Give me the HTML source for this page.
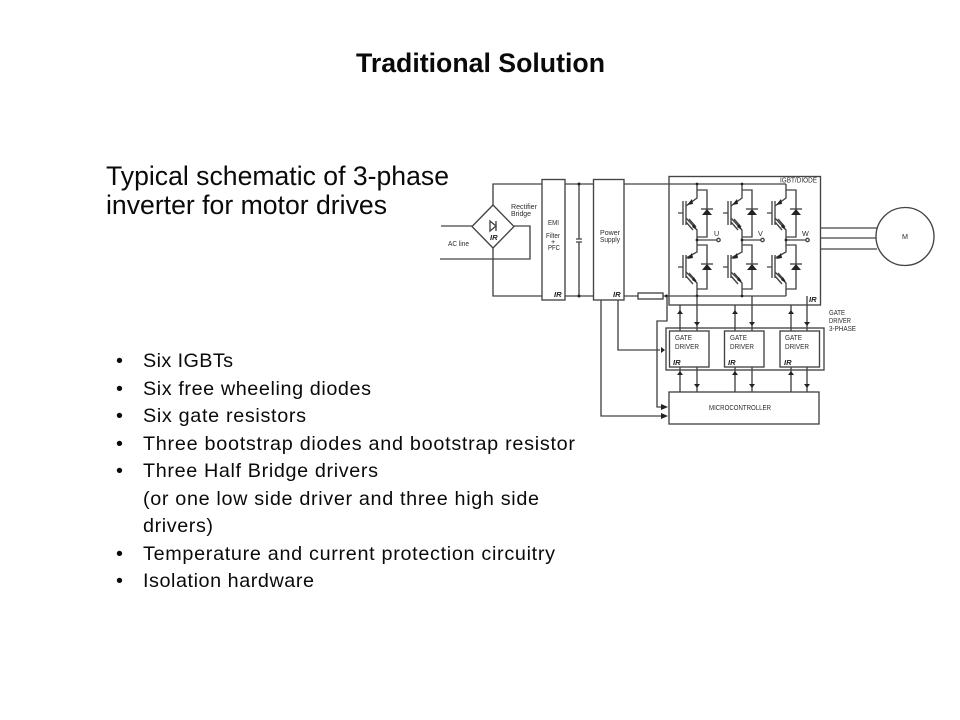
<!DOCTYPE html>
<html><head><meta charset="utf-8"><style>
html,body{margin:0;padding:0;background:#fff;width:960px;height:720px;overflow:hidden}
svg{display:block;font-family:"Liberation Sans",sans-serif}
.t{fill:#0a0a0a}
.b{font-size:19.8px}
.s{fill:#2c2c2c;font-size:7.2px}
.ir{fill:#222;font-size:7.6px;font-weight:bold;font-style:italic}
.l{fill:none;stroke:#444;stroke-width:1.35}
.f{fill:#222;stroke:none}
.d{filter:blur(0.3px)}
</style></head><body>
<svg width="960" height="720" viewBox="0 0 960 720" xmlns="http://www.w3.org/2000/svg">
<text class="t" x="356" y="72" font-size="26.8" font-weight="bold" textLength="249" lengthAdjust="spacingAndGlyphs">Traditional Solution</text>
<text class="t" x="106" y="185" font-size="26.6" textLength="343" lengthAdjust="spacingAndGlyphs">Typical schematic of 3-phase</text>
<text class="t" x="106" y="214" font-size="26.6" textLength="281" lengthAdjust="spacingAndGlyphs">inverter for motor drives</text>

<g class="t b">
<text x="116" y="367">•</text><text x="143" y="367" textLength="90">Six IGBTs</text>
<text x="116" y="395">•</text><text x="143" y="395" textLength="228">Six free wheeling diodes</text>
<text x="116" y="422">•</text><text x="143" y="422" textLength="163">Six gate resistors</text>
<text x="116" y="450">•</text><text x="143" y="450" textLength="432">Three bootstrap diodes and bootstrap resistor</text>
<text x="116" y="477">•</text><text x="143" y="477" textLength="235">Three Half Bridge drivers</text>
<text x="143" y="505" textLength="396">(or one low side driver and three high side</text>
<text x="143" y="532" textLength="70">drivers)</text>
<text x="116" y="560">•</text><text x="143" y="560" textLength="412">Temperature and current protection circuitry</text>
<text x="116" y="587">•</text><text x="143" y="587" textLength="171">Isolation hardware</text>
</g>

<defs>
<g id="leg">
<path class="l" d="M0 0V14L-11 22M-11 34L0 46V56"/>
<path class="l" d="M-11 17V41M-14 17V41M-19 29H-14M-8 35L-1 43M-11 38L-4 46"/>
<path class="f" d="M-10 21L-5 15L-4 20ZM0 46L-5 43L-3 40Z"/>
<path class="l" d="M0 6H10V53H0"/>
<path class="f" d="M5 31H15L10 25Z"/>
<path class="l" d="M4 25H16"/>
</g>
<g id="leg2">
<path class="l" d="M0 0V12L-11 18M-11 32L0 43V56"/>
<path class="l" d="M-11 15V38M-14 15V38M-19 27H-14M-8 33L-1 41M-11 36L-4 44"/>
<path class="f" d="M-10 19L-5 13L-4 18ZM0 43L-5 40L-3 37Z"/>
<path class="l" d="M0 5H10V49H0"/>
<path class="f" d="M5 30H15L10 24Z"/>
<path class="l" d="M4 24H16"/>
</g>
</defs>

<g class="d">
<!-- rectifier and power path -->
<g class="l">
<path d="M493 205V184H542M565 184H593M624 184H786"/>
<path d="M493 248V296H542M565 296H593M624 296H638M663 296H786"/>
<path d="M472 226.500L493 205L514 226.500L493 248Z"/>
<path d="M441 226H472M514 226H530V259H440"/>
<rect x="542" y="179.500" width="23" height="120.500"/>
<rect x="593.500" y="179.500" width="30.500" height="120.500"/>
<path d="M579 184V239M576 239H582M576 242H582M579 242V296"/>
<rect x="638" y="293" width="25" height="6"/>
<path d="M490 221L496 226L490 231ZM496 221V231"/>
<rect x="669" y="176.500" width="151.500" height="128.500"/>
<circle cx="905" cy="236.500" r="29"/>
<path d="M820.500 228H877M820.500 238H875.500M820.500 249H877"/>
</g>
<g class="f">
<circle cx="579" cy="184" r="1.500"/><circle cx="579" cy="296" r="1.500"/><circle cx="666.500" cy="296" r="1.500"/>
</g>

<use href="#leg" x="697" y="184"/><use href="#leg" x="742" y="184"/><use href="#leg" x="786" y="184"/>
<use href="#leg2" x="697" y="240"/><use href="#leg2" x="742" y="240"/><use href="#leg2" x="786" y="240"/>
<g class="l">
<path d="M697 240H717M742 240H761M786 240H806"/>
<circle cx="718.500" cy="240" r="1.700"/><circle cx="762.500" cy="240" r="1.700"/><circle cx="807.500" cy="240" r="1.700"/>
</g>
<g class="f">
<circle cx="697" cy="184" r="1.400"/><circle cx="742" cy="184" r="1.400"/>
<circle cx="697" cy="240" r="1.400"/><circle cx="742" cy="240" r="1.400"/><circle cx="786" cy="240" r="1.400"/>
<circle cx="697" cy="296" r="1.400"/><circle cx="742" cy="296" r="1.400"/>
</g>

<!-- gate drivers -->
<g class="l">
<rect x="666" y="328" width="158" height="42"/>
<rect x="669.500" y="331" width="39.500" height="36"/>
<rect x="724.500" y="331" width="39.500" height="36"/>
<rect x="780" y="331" width="39.500" height="36"/>
<rect x="669" y="392" width="150" height="32"/>
<path d="M680 305V331M697 296V331M735 305V331M752 296V331M791 305V331M807 296V331"/>
<path d="M680 367V392M697 367V392M735 367V392M752 367V392M791 367V392M807 367V392"/>
<path d="M601 300V416H662M618 300V350H660M667 296V321H657V407H662"/>
</g>
<g class="f">
<path d="M677 314L680 310L683 314ZM732 314L735 310L738 314ZM788 314L791 310L794 314Z"/>
<path d="M694 322L697 326L700 322ZM749 322L752 326L755 322ZM804 322L807 326L810 322Z"/>
<path d="M677 375L680 371L683 375ZM732 375L735 371L738 375ZM788 375L791 371L794 375Z"/>
<path d="M694 384L697 388L700 384ZM749 384L752 388L755 384ZM804 384L807 388L810 384Z"/>
<path d="M661 347L665 350L661 353ZM661 404L668 407L661 410ZM661 413L668 416L661 419Z"/>
</g>

<!-- labels -->
<g class="s">
<text x="511" y="209" textLength="26" lengthAdjust="spacingAndGlyphs">Rectifier</text><text x="511" y="216" textLength="20" lengthAdjust="spacingAndGlyphs">Bridge</text>
<text x="448" y="246" textLength="21" lengthAdjust="spacingAndGlyphs">AC line</text>
<text x="548" y="225" textLength="11" lengthAdjust="spacingAndGlyphs">EMI</text>
<text x="546" y="238" textLength="14" lengthAdjust="spacingAndGlyphs">Filter</text>
<text x="551" y="244">+</text>
<text x="548" y="250" textLength="12" lengthAdjust="spacingAndGlyphs">PFC</text>
<text x="600" y="235" textLength="20" lengthAdjust="spacingAndGlyphs">Power</text><text x="600" y="242" textLength="20" lengthAdjust="spacingAndGlyphs">Supply</text>
<text x="780" y="182.500" textLength="37" lengthAdjust="spacingAndGlyphs">IGBT/DIODE</text>
<text x="714" y="236">U</text><text x="758" y="236">V</text><text x="802" y="236">W</text>
<text x="902" y="239">M</text>
<text x="829" y="315" textLength="16" lengthAdjust="spacingAndGlyphs">GATE</text>
<text x="829" y="323" textLength="22" lengthAdjust="spacingAndGlyphs">DRIVER</text>
<text x="829" y="331" textLength="27" lengthAdjust="spacingAndGlyphs">3-PHASE</text>
<text x="675" y="340" textLength="17" lengthAdjust="spacingAndGlyphs">GATE</text><text x="675" y="349" textLength="24" lengthAdjust="spacingAndGlyphs">DRIVER</text>
<text x="730" y="340" textLength="17" lengthAdjust="spacingAndGlyphs">GATE</text><text x="730" y="349" textLength="24" lengthAdjust="spacingAndGlyphs">DRIVER</text>
<text x="785" y="340" textLength="17" lengthAdjust="spacingAndGlyphs">GATE</text><text x="785" y="349" textLength="24" lengthAdjust="spacingAndGlyphs">DRIVER</text>
<text x="709" y="410" textLength="62" lengthAdjust="spacingAndGlyphs">MICROCONTROLLER</text>
</g>
<g class="ir">
<text x="490" y="240">IR</text><text x="554" y="297">IR</text><text x="613" y="297">IR</text>
<text x="809" y="302">IR</text><text x="673" y="365">IR</text><text x="728" y="365">IR</text><text x="784" y="365">IR</text>
</g>
</g>
</svg>
</body></html>
